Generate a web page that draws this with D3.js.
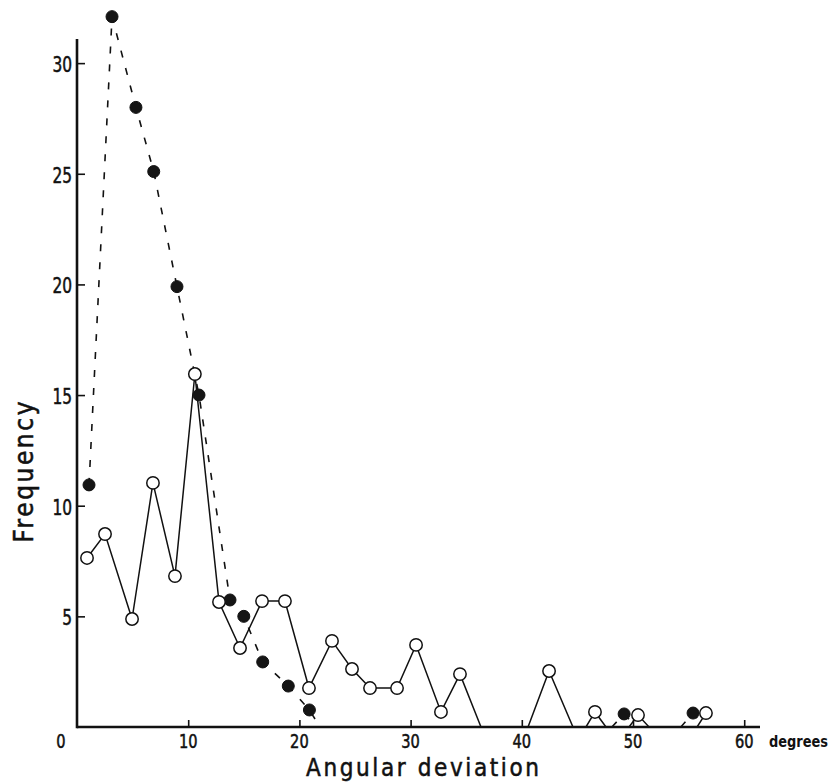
<!DOCTYPE html>
<html>
<head>
<meta charset="utf-8">
<script src="https://cdn.jsdelivr.net/npm/d3@7"></script>
<style>
  html, body { margin: 0; padding: 0; background: #fff; }
  svg { display: block; }
  text { font-family: "Liberation Sans Narrow", "DejaVu Sans Condensed", "Liberation Sans", Arial, sans-serif; fill: #111; stroke: #111; stroke-width: 0.5; }
</style>
</head>
<body>
<svg id="chart" width="836" height="783"></svg>
<script>
// Open-circle series (solid line); zeros mark where the line meets the axis
const openDeg  = [0.9, 2.52, 4.95, 6.83, 8.81, 10.6, 12.77, 14.66, 16.64, 18.7, 20.86, 22.93, 24.73, 26.35, 28.78, 30.49, 32.73, 34.44, 36.33, 40.56, 42.45, 44.6, 45.77, 46.58, 47.57, 49.64, 50.45, 51.44, 55.76, 56.56];
const openFreq = [7.64, 8.72, 4.88, 11.03, 6.82, 15.95, 5.65, 3.57, 5.69, 5.69, 1.76, 3.89, 2.62, 1.76, 1.76, 3.71, 0.68, 2.39, 0, 0, 2.53, 0, 0, 0.68, 0, 0, 0.54, 0, 0, 0.63];

// Filled-circle series (dashed line); null breaks the line between runs
const filledDeg  = [1.08, 3.15, 5.3, 6.9, 8.99, 10.97, 13.76, 15.0, 16.7, 19.0, 20.9, 21.85, null, 48.1, 49.2, 50.3, null, 54.3, 55.4, 56.4];
const filledFreq = [10.94, 32.1, 28.0, 25.1, 19.9, 15.0, 5.74, 5.0, 2.94, 1.85, 0.77, 0, null, 0, 0.59, 0, null, 0, 0.63, 0];

const xTicks = [0, 10, 20, 30, 40, 50, 60];
const yTicks = [5, 10, 15, 20, 25, 30];

const svg = d3.select("#chart");

const x = d3.scaleLinear().domain([0, 61.42]).range([77, 760]);
const y = d3.scaleLinear().domain([0, 31.09]).range([727, 39]);

const openPts = openDeg.map((d, i) => ({ deg: d, freq: openFreq[i] }));
const filledPts = filledDeg.map((d, i) => ({ deg: d, freq: filledFreq[i] }));

const line = d3.line()
  .defined(p => p.deg !== null)
  .x(p => x(p.deg))
  .y(p => y(p.freq));

// connecting lines
svg.append("path")
  .attr("d", line(filledPts))
  .attr("fill", "none")
  .attr("stroke", "#111")
  .attr("stroke-width", 1.6)
  .attr("stroke-dasharray", "7,11");

svg.append("path")
  .attr("d", line(openPts))
  .attr("fill", "none")
  .attr("stroke", "#111")
  .attr("stroke-width", 1.5);

// axes
const xAxis = d3.axisBottom(x).tickValues(xTicks.slice(1)).tickSize(-7).tickFormat("");
const yAxis = d3.axisLeft(y).tickValues(yTicks).tickSize(-8).tickFormat("");

const gx = svg.append("g").attr("transform", `translate(0,${y(0)})`).call(xAxis);
const gy = svg.append("g").attr("transform", `translate(${x(0)},0)`).call(yAxis);
[gx, gy].forEach(g => {
  g.select(".domain").attr("stroke", "#111").attr("stroke-width", 2.6);
  g.selectAll(".tick line").attr("stroke", "#111").attr("stroke-width", 1.6);
});
gx.select(".domain").attr("d", `M${x(0)},0H${x(61.42)}`);
gy.select(".domain").attr("d", `M0,${y(31.09)}V${y(0) + 1.3}`);

// markers: filled first, open circles drawn on top
svg.append("g").selectAll("circle")
  .data(filledPts.filter(p => p.deg !== null && p.freq > 0))
  .join("circle")
  .attr("cx", p => x(p.deg))
  .attr("cy", p => y(p.freq))
  .attr("r", 6)
  .attr("fill", "#151515")
  .attr("stroke", "#111")
  .attr("stroke-width", 1);

svg.append("g").selectAll("circle")
  .data(openPts.filter(p => p.freq > 0))
  .join("circle")
  .attr("cx", p => x(p.deg))
  .attr("cy", p => y(p.freq))
  .attr("r", 6.2)
  .attr("fill", "#fff")
  .attr("stroke", "#111")
  .attr("stroke-width", 1.5);

// tick labels
svg.append("g").selectAll("text")
  .data(xTicks)
  .join("text")
  .attr("x", d => d === 0 ? 61 : x(d))
  .attr("y", 748)
  .attr("text-anchor", "middle")
  .attr("font-size", 19)
  .attr("textLength", d => String(d).length * 9.3)
  .attr("lengthAdjust", "spacingAndGlyphs")
  .text(d => d);

svg.append("g").selectAll("text")
  .data(yTicks)
  .join("text")
  .attr("x", 72)
  .attr("y", d => y(d) + 9)
  .attr("text-anchor", "end")
  .attr("font-size", 21)
  .attr("textLength", d => String(d).length * 9.8)
  .attr("lengthAdjust", "spacingAndGlyphs")
  .text(d => d);

// axis titles
svg.append("text")
  .attr("x", 422.5)
  .attr("y", 776)
  .attr("text-anchor", "middle")
  .attr("font-size", 24)
  .attr("textLength", 233)
  .attr("lengthAdjust", "spacing")
  .text("Angular deviation");

svg.append("text")
  .attr("transform", "translate(33,472) rotate(-90)")
  .attr("text-anchor", "middle")
  .attr("font-size", 26)
  .attr("textLength", 141)
  .attr("lengthAdjust", "spacing")
  .text("Frequency");

svg.append("text")
  .attr("x", 769)
  .attr("y", 747)
  .attr("font-size", 16)
  .attr("font-weight", "bold")
  .style("stroke-width", 0)
  .attr("textLength", 59)
  .attr("lengthAdjust", "spacingAndGlyphs")
  .text("degrees");
</script>
</body>
</html>
